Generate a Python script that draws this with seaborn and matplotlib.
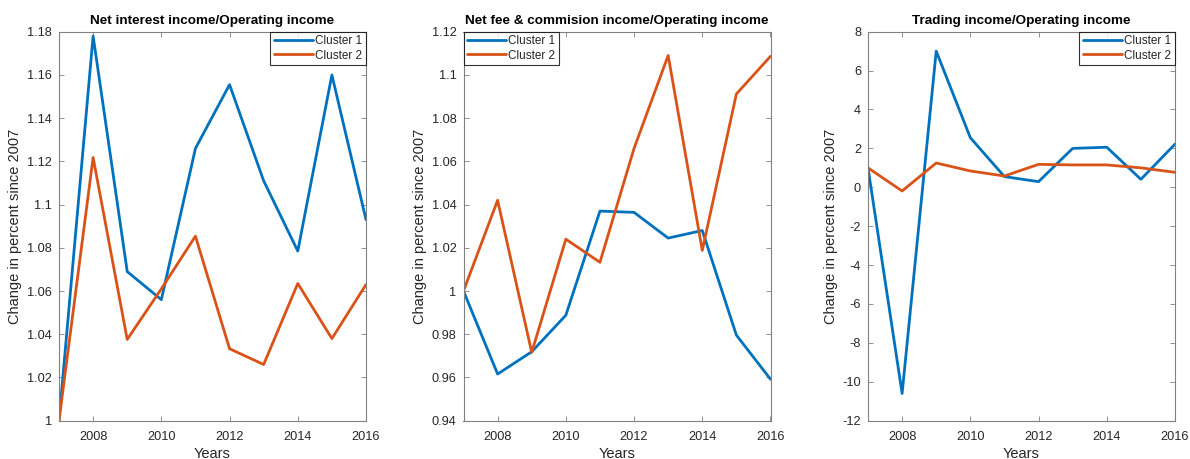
import matplotlib
matplotlib.use("Agg")
import matplotlib.pyplot as plt
import seaborn as sns
import pandas as pd

years = [2007, 2008, 2009, 2010, 2011, 2012, 2013, 2014, 2015, 2016]

nii_cluster1 = [1.000, 1.178, 1.069, 1.056, 1.126, 1.1555, 1.111, 1.0785, 1.160, 1.093]
nii_cluster2 = [1.000, 1.1218, 1.0376, 1.061, 1.0854, 1.0333, 1.026, 1.0635, 1.038, 1.063]

fee_cluster1 = [1.000, 0.9616, 0.9719, 0.9888, 1.037, 1.0364, 1.0245, 1.028, 0.9796, 0.9592]
fee_cluster2 = [1.000, 1.042, 0.9716, 1.024, 1.0133, 1.066, 1.109, 1.0188, 1.0912, 1.1086]

trd_cluster1 = [1.0, -10.6, 7.0, 2.55, 0.55, 0.29, 2.0, 2.06, 0.41, 2.22]
trd_cluster2 = [1.0, -0.19, 1.25, 0.84, 0.58, 1.18, 1.15, 1.15, 1.0, 0.77]

series_names = ["Cluster 1", "Cluster 2"]
titles = [
    "Net interest income/Operating income",
    "Net fee & commision income/Operating income",
    "Trading income/Operating income",
]
ylims = [(1.0, 1.18), (0.94, 1.12), (-12, 8)]
yticks = [
    [1.0, 1.02, 1.04, 1.06, 1.08, 1.1, 1.12, 1.14, 1.16, 1.18],
    [0.94, 0.96, 0.98, 1.0, 1.02, 1.04, 1.06, 1.08, 1.1, 1.12],
    [-12, -10, -8, -6, -4, -2, 0, 2, 4, 6, 8],
]
xticks = [2008, 2010, 2012, 2014, 2016]
legend_locs = ["upper right", "upper left", "upper right"]
panels = [(nii_cluster1, nii_cluster2), (fee_cluster1, fee_cluster2), (trd_cluster1, trd_cluster2)]

sns.set_style("white")
plt.rcParams["font.family"] = ["Liberation Sans", "DejaVu Sans"]

text_color = "#262626"
axis_color = "#808080"
palette = {"Cluster 1": "#0072BD", "Cluster 2": "#D95319"}

fig = plt.figure(figsize=(11.9, 4.59), dpi=100)
lefts = [59 / 1190, 463.5 / 1190, 868 / 1190]
width = 307 / 1190
bottom = (459 - 420.7) / 459
height = 389 / 459

for i, (c1, c2) in enumerate(panels):
    ax = fig.add_axes([lefts[i], bottom, width, height])
    df = pd.DataFrame({
        "Years": years * 2,
        "value": list(c1) + list(c2),
        "series": [series_names[0]] * len(years) + [series_names[1]] * len(years),
    })
    sns.lineplot(data=df, x="Years", y="value", hue="series", palette=palette,
                 linewidth=2.0, ax=ax, legend=True)
    ax.set_xlim(years[0], years[-1])
    ax.set_ylim(*ylims[i])
    ax.set_xticks(xticks)
    ax.set_yticks(yticks[i])
    ax.set_yticklabels([f"{v:g}" for v in yticks[i]])
    ax.tick_params(direction="in", length=3.5, width=0.6, colors=axis_color,
                   labelcolor=text_color, labelsize=9.2, top=True, right=True,
                   left=True, bottom=True)
    ax.tick_params(axis="x", pad=7.5)
    ax.tick_params(axis="y", pad=5)
    for sp in ax.spines.values():
        sp.set_visible(True)
        sp.set_color(axis_color)
        sp.set_linewidth(0.8)
    ax.set_xlabel("Years", fontsize=10.5, color=text_color, labelpad=2.5)
    ax.set_ylabel("Change in percent since 2007", fontsize=10.5, color=text_color,
                  labelpad=3.5)
    ax.set_title(titles[i], fontsize=9.7, fontweight="bold", color="black", pad=5.5)
    leg = ax.legend(loc=legend_locs[i], borderaxespad=0, fontsize=8.5,
                    frameon=True, fancybox=False, handlelength=3.3,
                    handletextpad=0.2, borderpad=0.3, labelspacing=0.2)
    leg.get_frame().set_edgecolor("black")
    leg.get_frame().set_linewidth(0.8)
    for t in leg.get_texts():
        t.set_color(text_color)

fig.savefig("out.png", dpi=100, facecolor="white")
